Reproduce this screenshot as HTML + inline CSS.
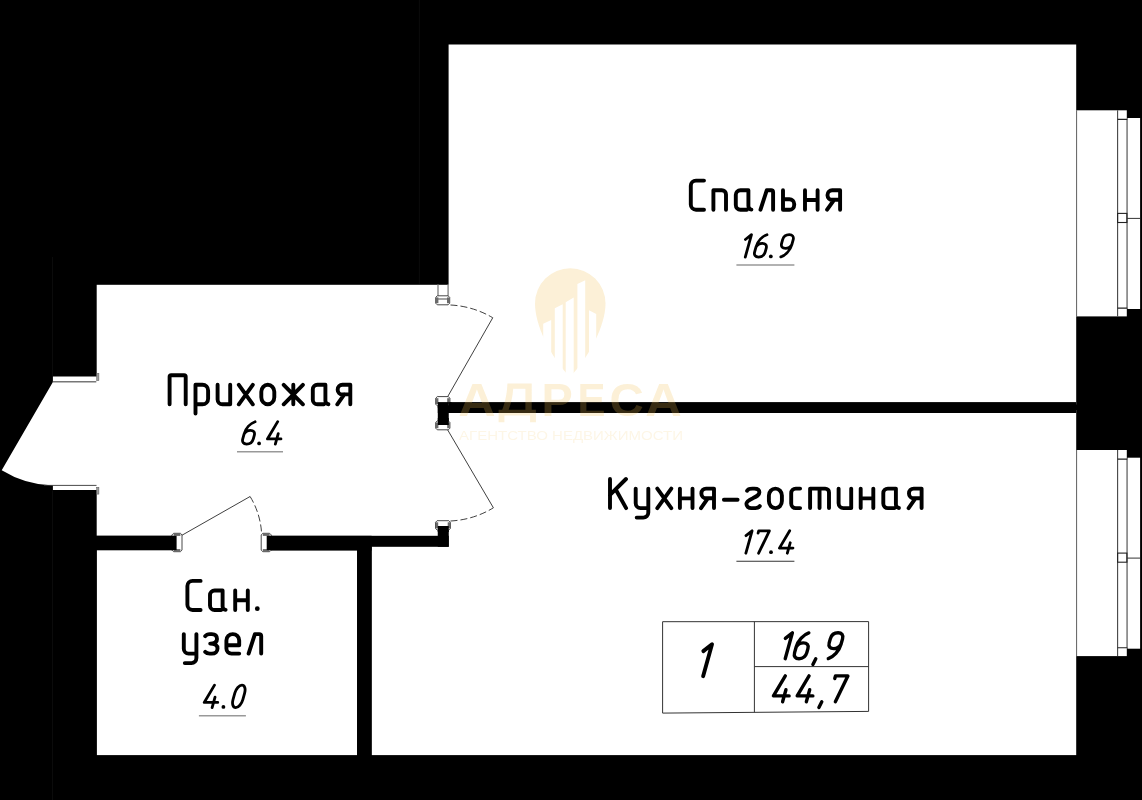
<!DOCTYPE html>
<html><head><meta charset="utf-8"><title>plan</title>
<style>
html,body{margin:0;padding:0;background:#000;}
body{width:1142px;height:800px;overflow:hidden;font-family:"Liberation Sans",sans-serif;}
svg{display:block;}
</style></head><body>
<svg width="1142" height="800" viewBox="0 0 1142 800">
<rect width="1142" height="800" fill="#000"/>
<rect x="448.6" y="44.5" width="627.6" height="360" fill="#fff"/>
<rect x="371.6" y="410" width="704.6" height="345.1" fill="#fff"/>
<rect x="96.7" y="284.8" width="360" height="262" fill="#fff"/>
<rect x="96.9" y="546" width="260.2" height="209.1" fill="#fff"/>
<path d="M97 376.6 H52.9 V382 L1.7 470.2 A103.5 103.5 0 0 0 52.9 485.5 V490 H97 Z" fill="#fff"/>
<rect x="437.8" y="402.1" width="638.4" height="10.9" fill="#000"/>
<rect x="437.8" y="402.1" width="10.95" height="22.9" fill="#000"/>
<rect x="437.75" y="526" width="11" height="20.8" fill="#000"/>
<rect x="266.6" y="535.8" width="182.15" height="11" fill="#000"/>
<rect x="266.6" y="535.8" width="105" height="14.8" fill="#000"/>
<rect x="96" y="535.6" width="80.5" height="14.7" fill="#000"/>
<rect x="357.1" y="546" width="14.5" height="210" fill="#000"/>
<path d="M52.5 257 V376 M52.5 490.5 V800 M419.4 0 V284" stroke="#0b0b0b" stroke-width="1" fill="none"/>
<rect x="1076.2" y="110.3" width="50.6" height="206.1" fill="#fff"/>
<rect x="1127.5" y="118.0" width="12.6" height="191" fill="#fff"/>
<path d="M1076.6 110.3 V316.4" stroke="#555" stroke-width="0.9" fill="none"/>
<path d="M1117.6 110.3 V316.4" stroke="#444" stroke-width="1.1" fill="none"/>
<path d="M1126.9 119.4 V308.1" stroke="#999" stroke-width="1.4" fill="none"/>
<path d="M1117.6 119.4 H1127.2 M1117.6 308.1 H1127.2" stroke="#222" stroke-width="1.1" fill="none"/>
<rect x="1117.6" y="213.4" width="9.3" height="9.1" fill="none" stroke="#222" stroke-width="1.1"/>
<path d="M1127 218.4 H1140" stroke="#333" stroke-width="1" fill="none"/>
<rect x="1076.2" y="450.0" width="50.6" height="206.1" fill="#fff"/>
<rect x="1127.5" y="457.7" width="12.6" height="191" fill="#fff"/>
<path d="M1076.6 450.0 V656.1" stroke="#555" stroke-width="0.9" fill="none"/>
<path d="M1117.6 450.0 V656.1" stroke="#444" stroke-width="1.1" fill="none"/>
<path d="M1126.9 459.1 V647.8" stroke="#999" stroke-width="1.4" fill="none"/>
<path d="M1117.6 459.1 H1127.2 M1117.6 647.8 H1127.2" stroke="#222" stroke-width="1.1" fill="none"/>
<rect x="1117.6" y="553.1" width="9.3" height="9.1" fill="none" stroke="#222" stroke-width="1.1"/>
<path d="M1127 558.1 H1140" stroke="#333" stroke-width="1" fill="none"/>
<path d="M447.6 396.8 L492.75 317.75" stroke="#2a2a2a" stroke-width="0.9" fill="none"/>
<path d="M450.5 305 A92 92 0 0 1 492.75 317.75" stroke="#2a2a2a" stroke-width="0.9" fill="none" stroke-dasharray="7 3"/>
<path d="M438 284.5 V296 M448.1 284.5 V296" stroke="#888" stroke-width="1.4" fill="none"/>
<path d="M437.30 295.80 L448.10 295.80 L449.70 297.40 L449.70 303.20 L448.10 304.80 L437.30 304.80 L435.70 303.20 L435.70 297.40 Z" fill="#fff" stroke="#333" stroke-width="0.9"/>
<rect x="435.90" y="297.40" width="2.5" height="5.80" fill="#6a6a6a"/>
<rect x="447.00" y="297.40" width="2.5" height="5.80" fill="#6a6a6a"/>
<path d="M438 299 H447.5" stroke="#666" stroke-width="1.2" fill="none"/>
<path d="M447.6 429.8 L493.4 507.8" stroke="#2a2a2a" stroke-width="0.9" fill="none"/>
<path d="M450.5 521 A91 91 0 0 0 493.4 507.8" stroke="#2a2a2a" stroke-width="0.9" fill="none" stroke-dasharray="7 3"/>
<path d="M437.30 396.60 L448.30 396.60 L449.90 398.20 L449.90 404.20 L448.30 405.80 L437.30 405.80 L435.70 404.20 L435.70 398.20 Z" fill="#fff" stroke="#333" stroke-width="0.9"/>
<rect x="435.90" y="398.20" width="2.5" height="6.00" fill="#6a6a6a"/>
<rect x="447.20" y="398.20" width="2.5" height="6.00" fill="#6a6a6a"/>
<rect x="437.8" y="402.1" width="10.95" height="6" fill="#000"/>
<path d="M437.30 420.90 L448.30 420.90 L449.90 422.50 L449.90 428.20 L448.30 429.80 L437.30 429.80 L435.70 428.20 L435.70 422.50 Z" fill="#fff" stroke="#333" stroke-width="0.9"/>
<rect x="435.90" y="422.50" width="2.5" height="5.70" fill="#6a6a6a"/>
<rect x="447.20" y="422.50" width="2.5" height="5.70" fill="#6a6a6a"/>
<rect x="437.8" y="418" width="10.95" height="7" fill="#000"/>
<rect x="448.5" y="402.1" width="3" height="10.9" fill="#000"/>
<path d="M437.10 520.70 L448.80 520.70 L450.40 522.30 L450.40 528.40 L448.80 530.00 L437.10 530.00 L435.50 528.40 L435.50 522.30 Z" fill="#fff" stroke="#333" stroke-width="0.9"/>
<rect x="435.70" y="522.30" width="2.5" height="6.10" fill="#6a6a6a"/>
<rect x="447.70" y="522.30" width="2.5" height="6.10" fill="#6a6a6a"/>
<rect x="437.75" y="526" width="11" height="6" fill="#000"/>
<path d="M181.7 535.4 L250.1 496.5" stroke="#2a2a2a" stroke-width="0.9" fill="none"/>
<path d="M250.1 496.5 A79 79 0 0 1 261.6 533.5" stroke="#2a2a2a" stroke-width="0.9" fill="none" stroke-dasharray="7 3"/>
<path d="M173.60 533.30 L180.40 533.30 L182.00 534.90 L182.00 550.10 L180.40 551.70 L173.60 551.70 L172.00 550.10 L172.00 534.90 Z" fill="#fff" stroke="#333" stroke-width="0.9"/>
<rect x="173.60" y="533.50" width="6.80" height="2.4" fill="#6a6a6a"/>
<rect x="173.60" y="549.10" width="6.80" height="2.4" fill="#6a6a6a"/>
<rect x="171" y="535.8" width="5.6" height="14.3" fill="#000"/>
<path d="M262.80 533.30 L269.60 533.30 L271.20 534.90 L271.20 550.10 L269.60 551.70 L262.80 551.70 L261.20 550.10 L261.20 534.90 Z" fill="#fff" stroke="#333" stroke-width="0.9"/>
<rect x="262.80" y="533.50" width="6.80" height="2.4" fill="#6a6a6a"/>
<rect x="262.80" y="549.10" width="6.80" height="2.4" fill="#6a6a6a"/>
<rect x="266.7" y="535.8" width="5.5" height="14.3" fill="#000"/>
<path d="M52.9 381.7 H96.3" stroke="#777" stroke-width="1.4" fill="none"/>
<rect x="96.7" y="373.4" width="2.2" height="7.2" fill="#999" stroke="#555" stroke-width="0.5"/>
<path d="M44 485.4 H96.5" stroke="#333" stroke-width="0.9" fill="none"/>
<rect x="96.7" y="487.3" width="2.2" height="6.8" fill="#999" stroke="#555" stroke-width="0.5"/>
<path d="M704.00 180.60 L696.00 180.60 C693.13 180.60 690.80 182.93 690.80 185.80 L690.80 204.50 C690.80 207.37 693.13 209.70 696.00 209.70 L704.00 209.70 M713.40 209.70 L713.40 190.20 L721.80 190.20 C724.12 190.20 726.00 192.08 726.00 194.40 L726.00 209.70 M748.40 190.20 L740.40 190.20 C737.86 190.20 735.80 192.26 735.80 194.80 L735.80 205.10 C735.80 207.64 737.86 209.70 740.40 209.70 L746.90 209.70 M748.40 190.20 L748.40 206.10 C748.40 207.87 749.74 209.43 751.40 209.60 M760.50 209.70 L766.80 190.20 L771.10 190.20 C772.20 190.20 773.10 191.10 773.10 192.20 L773.10 209.70 M783.00 190.20 L783.00 209.70 L789.40 209.70 C792.05 209.70 794.20 207.55 794.20 204.90 L794.20 204.10 C794.20 201.45 792.05 199.30 789.40 199.30 L783.00 199.30 M805.00 209.70 L805.00 190.20 M817.60 209.70 L817.60 190.20 M805.00 200.00 L817.60 200.00 M840.10 209.70 L840.10 190.20 L832.20 190.20 C829.60 190.20 827.50 192.30 827.50 194.90 L827.50 195.30 C827.50 197.79 829.60 199.80 832.20 199.80 L840.10 199.80 M834.10 199.80 L827.10 209.70 M169.60 404.30 L169.60 376.80 C169.60 375.92 170.32 375.20 171.20 375.20 L184.10 375.20 C184.98 375.20 185.70 375.92 185.70 376.80 L185.70 404.30 M195.50 413.50 L195.50 384.80 L202.50 384.80 C205.59 384.80 208.10 387.31 208.10 390.40 L208.10 398.70 C208.10 401.79 205.59 404.30 202.50 404.30 L195.50 404.30 M217.60 384.80 L217.60 399.50 C217.60 402.15 219.75 404.30 222.40 404.30 L230.20 404.30 M230.20 384.80 L230.20 404.30 M238.80 384.80 L252.80 404.30 M252.80 384.80 L238.80 404.30 M261.30 397.30 L261.30 391.80 C261.30 387.93 264.21 384.80 267.80 384.80 C271.39 384.80 274.30 387.93 274.30 391.80 L274.30 397.30 C274.30 401.17 271.39 404.30 267.80 404.30 C264.21 404.30 261.30 401.17 261.30 397.30 M283.70 384.80 L302.90 404.30 M302.90 384.80 L283.70 404.30 M293.30 384.80 L293.30 404.30 M325.40 384.80 L317.40 384.80 C314.86 384.80 312.80 386.86 312.80 389.40 L312.80 399.70 C312.80 402.24 314.86 404.30 317.40 404.30 L323.90 404.30 M325.40 384.80 L325.40 400.70 C325.40 402.47 326.74 404.03 328.40 404.20 M350.30 404.30 L350.30 384.80 L342.40 384.80 C339.80 384.80 337.70 386.90 337.70 389.50 L337.70 389.90 C337.70 392.39 339.80 394.40 342.40 394.40 L350.30 394.40 M344.30 394.40 L337.30 404.30 M610.00 508.10 L610.00 479.00 M610.00 494.90 L626.00 479.00 M615.60 489.30 L626.10 508.10 M635.70 488.60 L635.70 503.30 C635.70 505.95 637.85 508.10 640.50 508.10 L648.30 508.10 M648.30 488.60 L648.30 512.60 C648.30 515.36 646.06 517.60 643.30 517.60 L636.70 517.60 M657.30 488.60 L671.30 508.10 M671.30 488.60 L657.30 508.10 M679.90 508.10 L679.90 488.60 M692.50 508.10 L692.50 488.60 M679.90 498.40 L692.50 498.40 M714.00 508.10 L714.00 488.60 L706.10 488.60 C703.50 488.60 701.40 490.70 701.40 493.30 L701.40 493.70 C701.40 496.19 703.50 498.20 706.10 498.20 L714.00 498.20 M708.00 498.20 L701.00 508.10 M723.90 499.70 L737.60 499.70 M747.10 490.80 C747.90 488.80 749.80 488.60 752.40 488.60 L754.40 488.60 C757.60 488.60 759.40 489.50 759.40 492.30 C759.40 495.10 756.40 496.50 752.90 498.20 C748.40 500.20 746.40 501.50 746.40 503.80 C746.40 506.50 748.40 508.10 751.40 508.10 L755.40 508.10 C757.40 508.10 759.00 507.30 759.80 506.10 M768.90 501.10 L768.90 495.60 C768.90 491.73 771.81 488.60 775.40 488.60 C778.99 488.60 781.90 491.73 781.90 495.60 L781.90 501.10 C781.90 504.97 778.99 508.10 775.40 508.10 C771.81 508.10 768.90 504.97 768.90 501.10 M800.10 488.60 L795.80 488.60 C793.26 488.60 791.20 490.66 791.20 493.20 L791.20 503.50 C791.20 506.04 793.26 508.10 795.80 508.10 L800.10 508.10 M810.10 508.10 L810.10 488.60 L825.20 488.60 C827.30 488.60 829.00 490.30 829.00 492.40 L829.00 508.10 M819.55 488.60 L819.55 508.10 M838.60 488.60 L838.60 503.30 C838.60 505.95 840.75 508.10 843.40 508.10 L851.20 508.10 M851.20 488.60 L851.20 508.10 M860.70 508.10 L860.70 488.60 M873.30 508.10 L873.30 488.60 M860.70 498.40 L873.30 498.40 M895.90 488.60 L887.90 488.60 C885.36 488.60 883.30 490.66 883.30 493.20 L883.30 503.50 C883.30 506.04 885.36 508.10 887.90 508.10 L894.40 508.10 M895.90 488.60 L895.90 504.50 C895.90 506.27 897.24 507.83 898.90 508.00 M921.60 508.10 L921.60 488.60 L913.70 488.60 C911.10 488.60 909.00 490.70 909.00 493.30 L909.00 493.70 C909.00 496.19 911.10 498.20 913.70 498.20 L921.60 498.20 M915.60 498.20 L908.60 508.10 M200.60 580.90 L192.60 580.90 C189.73 580.90 187.40 583.23 187.40 586.10 L187.40 604.80 C187.40 607.67 189.73 610.00 192.60 610.00 L200.60 610.00 M222.60 590.50 L214.60 590.50 C212.06 590.50 210.00 592.56 210.00 595.10 L210.00 605.40 C210.00 607.94 212.06 610.00 214.60 610.00 L221.10 610.00 M222.60 590.50 L222.60 606.40 C222.60 608.17 223.94 609.73 225.60 609.90 M235.20 610.00 L235.20 590.50 M247.80 610.00 L247.80 590.50 M235.20 600.30 L247.80 600.30 M183.80 634.10 L183.80 648.80 C183.80 651.45 185.95 653.60 188.60 653.60 L196.40 653.60 M196.40 634.10 L196.40 658.10 C196.40 660.86 194.16 663.10 191.40 663.10 L184.80 663.10 M205.20 636.20 C206.40 634.50 207.80 634.10 209.80 634.10 L211.80 634.10 C215.10 634.10 217.00 635.90 217.00 639.10 C217.00 642.10 214.80 643.60 210.20 643.60 M210.20 643.60 C215.40 643.60 217.50 645.60 217.50 648.40 C217.50 651.60 215.20 653.60 211.80 653.60 L209.80 653.60 C207.80 653.60 206.30 653.10 205.20 651.90 M226.40 645.30 L239.20 645.30 L239.20 640.50 C239.20 636.97 236.33 634.10 232.80 634.10 C229.27 634.10 226.40 636.97 226.40 640.50 L226.40 648.60 C226.40 651.36 228.64 653.60 231.40 653.60 L239.20 653.60 M248.60 653.60 L254.90 634.10 L259.20 634.10 C260.30 634.10 261.20 635.00 261.20 636.10 L261.20 653.60" fill="none" stroke="#000" stroke-width="3.9" stroke-linecap="round" stroke-linejoin="round"/>
<circle cx="257.3" cy="608.7" r="2.4" fill="#000"/>
<circle cx="770.8" cy="256.4" r="1.9" fill="#000"/>
<circle cx="259.1" cy="443.4" r="1.9" fill="#000"/>
<circle cx="771.0" cy="552.2" r="1.9" fill="#000"/>
<circle cx="223.4" cy="706.9" r="1.9" fill="#000"/>
<path d="M745.41 239.50 L751.49 234.65 L745.27 257.05 M766.97 234.77 C762.41 236.39 757.62 241.12 755.96 247.09 L754.65 251.82 C753.72 255.18 755.44 257.05 758.49 257.05 C761.54 257.05 764.30 255.18 765.23 251.82 L766.19 248.34 C767.09 245.10 765.33 243.36 762.29 243.36 C759.98 243.36 757.36 244.73 755.96 247.09 M780.82 256.93 C785.38 255.31 790.17 250.58 791.83 244.61 L793.14 239.88 C794.07 236.52 792.35 234.65 789.30 234.65 C786.25 234.65 783.49 236.52 782.56 239.88 L781.60 243.36 C780.70 246.60 782.46 248.34 785.50 248.34 C787.81 248.34 790.43 246.97 791.83 244.61 M255.07 421.77 C250.51 423.39 245.72 428.12 244.06 434.09 L242.75 438.82 C241.82 442.18 243.54 444.05 246.59 444.05 C249.64 444.05 252.40 442.18 253.33 438.82 L254.29 435.34 C255.19 432.10 253.43 430.36 250.39 430.36 C248.08 430.36 245.46 431.73 244.06 434.09 M277.69 421.65 L267.41 438.95 L280.98 438.95 M278.23 433.60 L275.33 444.05 M746.01 535.65 L752.09 530.80 L745.87 553.20 M758.09 533.04 L758.71 530.80 L769.41 530.80 L758.60 553.20 M789.69 530.80 L779.41 548.10 L792.98 548.10 M790.23 542.75 L787.33 553.20 M214.49 685.15 L204.21 702.45 L217.78 702.45 M215.03 697.10 L212.13 707.55 M233.01 699.59 L234.80 693.11 C236.02 688.72 239.21 685.15 241.93 685.15 C244.64 685.15 245.85 688.72 244.63 693.11 L242.84 699.59 C241.62 703.98 238.43 707.55 235.72 707.55 C233.00 707.55 231.79 703.98 233.01 699.59" fill="none" stroke="#000" stroke-width="2.8" stroke-linecap="round" stroke-linejoin="round"/>
<path d="M736.4 265 H794.4 M237 451.8 H283 M198.9 715.7 H245.9" stroke="#999" stroke-width="1.5" fill="none"/>
<path d="M736.4 561.3 H794.4" stroke="#333" stroke-width="1.1" fill="none"/>
<path d="M662.6 621.7 L868.6 621.6 L868.6 711.4 L662.6 713.1 Z M754.4 621.6 V712.3 M754.4 666.6 H868.6" stroke="#333" stroke-width="1" fill="none"/>
<path d="M703.33 651.13 L712.01 644.20 L703.13 676.20" fill="none" stroke="#000" stroke-width="3.9" stroke-linecap="round" stroke-linejoin="round"/>
<path d="M785.37 638.41 L792.39 632.80 L785.21 658.70 M808.82 632.94 C803.55 634.81 798.01 640.28 796.09 647.19 L794.58 652.66 C793.50 656.54 795.49 658.70 799.02 658.70 C802.54 658.70 805.73 656.54 806.81 652.66 L807.92 648.63 C808.96 644.89 806.93 642.87 803.40 642.87 C800.74 642.87 797.71 644.46 796.09 647.19 M815.78 658.70 L812.89 664.46 M828.29 658.56 C833.56 656.69 839.11 651.22 841.02 644.31 L842.54 638.84 C843.61 634.96 841.62 632.80 838.10 632.80 C834.57 632.80 831.38 634.96 830.31 638.84 L829.19 642.87 C828.15 646.61 830.18 648.63 833.71 648.63 C836.37 648.63 839.40 647.05 841.02 644.31 M785.31 675.90 L773.44 695.90 L789.12 695.90 M785.94 689.71 L782.59 701.80 M809.06 675.90 L797.19 695.90 L812.87 695.90 M809.69 689.71 L806.34 701.80 M821.78 701.80 L818.89 707.56 M834.76 678.49 L835.48 675.90 L847.86 675.90 L835.35 701.80" fill="none" stroke="#000" stroke-width="3.4" stroke-linecap="round" stroke-linejoin="round"/>
<g opacity="0.23" fill="#f0be50">
<path d="M570.25 268.2 A35.3 35.3 0 0 1 605.5 303.5 C605.5 325 590 356 570 377 C550 356 535 325 535 303.5 A35.3 35.3 0 0 1 570.25 268.2 Z"/>
<text transform="translate(458.17 416) scale(1.101 1)" font-family="Liberation Sans" font-weight="bold" font-size="47">А</text>
<text transform="translate(541.5 416) scale(0.998 1)" font-family="Liberation Sans" font-weight="bold" font-size="47">Р</text>
<text transform="translate(577.58 416) scale(0.892 1)" font-family="Liberation Sans" font-weight="bold" font-size="47">Е</text>
<text transform="translate(609.5 416) scale(1.009 1)" font-family="Liberation Sans" font-weight="bold" font-size="47">С</text>
<text transform="translate(645.29 416) scale(1.076 1)" font-family="Liberation Sans" font-weight="bold" font-size="47">А</text>
<path fill-rule="evenodd" d="M498.6 422.3 V409.7 H502.2 C505 403 507 394 507.4 383.4 H531.7 V409.7 H535.9 V422.3 H530.1 V415.5 H504.4 V422.3 Z M513.2 388.8 H525.4 V409.7 H508.6 C511 404 512.8 396 513.2 388.8 Z"/>
</g>
<path d="M543.2 323.7 L551.2 320.0 V380 H543.2 Z M554.8 308.3 L562.7 304.2 V380 H554.8 Z M565.7 302.3 L573.7 297.5 V380 H565.7 Z M577.4 284.0 L585.2 280.2 V380 H577.4 Z M589.0 310.2 L596.2 314.0 V380 H589.0 Z" fill="#fff"/>
<text x="459" y="439.8" font-family="Liberation Sans" font-size="12.4" fill="#f0be50" opacity="0.14" textLength="224" lengthAdjust="spacingAndGlyphs">АГЕНТСТВО НЕДВИЖИМОСТИ</text>
</svg>
</body></html>
